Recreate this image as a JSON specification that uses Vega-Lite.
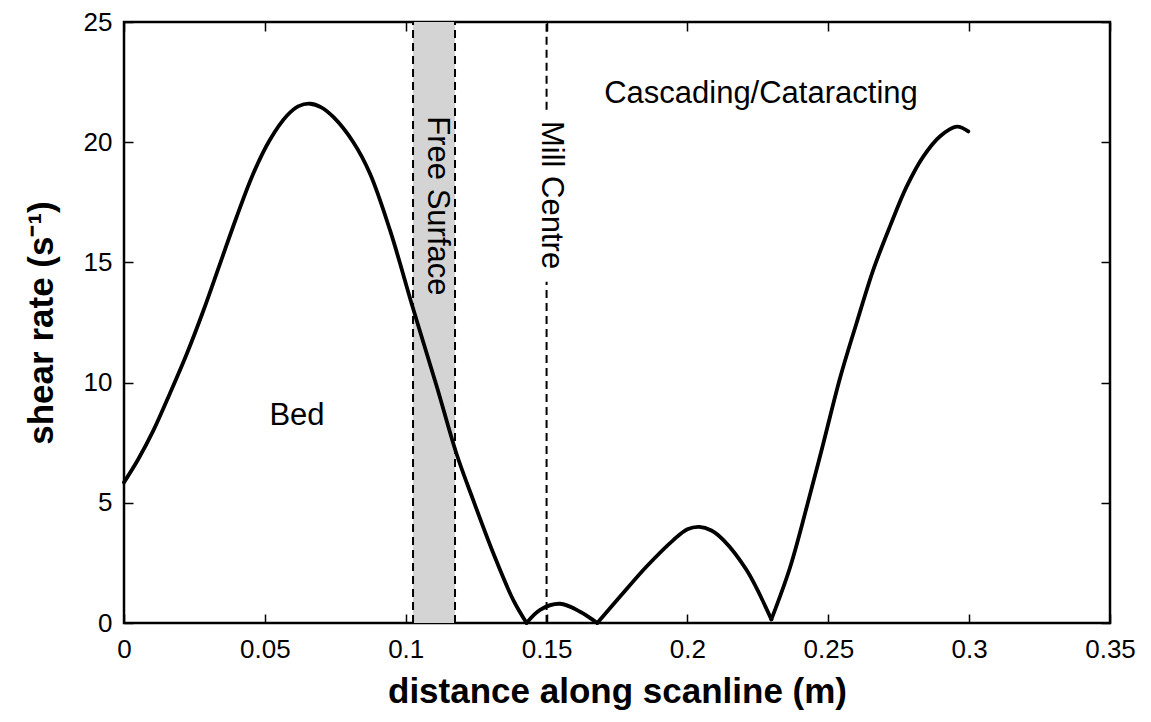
{
  "$schema": "https://vega.github.io/schema/vega-lite/v6.json",
  "autosize": "none",
  "width": 986,
  "height": 601,
  "padding": {"left": 124, "top": 22, "right": 41, "bottom": 99},
  "background": "white",
  "config": {
    "view": {"stroke": "black", "strokeWidth": 2.5},
    "font": "Liberation Sans",
    "axis": {
      "domain": false,
      "grid": false,
      "ticks": true,
      "tickColor": "black",
      "tickWidth": 1.5,
      "tickSize": -9,
      "labelColor": "black",
      "labelFont": "Liberation Sans",
      "labelFontSize": 26,
      "titleFont": "Liberation Sans",
      "titleFontSize": 35,
      "titleFontWeight": "bold",
      "titleColor": "black"
    }
  },
  "datasets": {
    "curve": [
      {"seg": 1, "x": 0.0, "y": 5.85},
      {"seg": 1, "x": 0.005, "y": 6.8},
      {"seg": 1, "x": 0.0104, "y": 8.0},
      {"seg": 1, "x": 0.0163, "y": 9.55},
      {"seg": 1, "x": 0.0223, "y": 11.2},
      {"seg": 1, "x": 0.0282, "y": 13.0},
      {"seg": 1, "x": 0.0341, "y": 14.95},
      {"seg": 1, "x": 0.040, "y": 16.9},
      {"seg": 1, "x": 0.0459, "y": 18.7},
      {"seg": 1, "x": 0.0518, "y": 20.1},
      {"seg": 1, "x": 0.0578, "y": 21.1},
      {"seg": 1, "x": 0.062, "y": 21.5},
      {"seg": 1, "x": 0.066, "y": 21.6},
      {"seg": 1, "x": 0.070, "y": 21.45},
      {"seg": 1, "x": 0.0743, "y": 21.05},
      {"seg": 1, "x": 0.0814, "y": 20.0},
      {"seg": 1, "x": 0.0873, "y": 18.7},
      {"seg": 1, "x": 0.0944, "y": 16.35},
      {"seg": 1, "x": 0.1027, "y": 13.05},
      {"seg": 1, "x": 0.111, "y": 9.85},
      {"seg": 1, "x": 0.118, "y": 7.05},
      {"seg": 1, "x": 0.124, "y": 5.1},
      {"seg": 1, "x": 0.1311, "y": 2.9},
      {"seg": 1, "x": 0.1382, "y": 0.95},
      {"seg": 1, "x": 0.1429, "y": 0.0},
      {"seg": 2, "x": 0.1429, "y": 0.0},
      {"seg": 2, "x": 0.1477, "y": 0.55},
      {"seg": 2, "x": 0.1548, "y": 0.8},
      {"seg": 2, "x": 0.1619, "y": 0.47},
      {"seg": 2, "x": 0.168, "y": 0.0},
      {"seg": 3, "x": 0.168, "y": 0.0},
      {"seg": 3, "x": 0.1761, "y": 1.1},
      {"seg": 3, "x": 0.1855, "y": 2.35},
      {"seg": 3, "x": 0.195, "y": 3.45},
      {"seg": 3, "x": 0.2, "y": 3.9},
      {"seg": 3, "x": 0.2042, "y": 4.0},
      {"seg": 3, "x": 0.2085, "y": 3.85},
      {"seg": 3, "x": 0.2128, "y": 3.45},
      {"seg": 3, "x": 0.221, "y": 2.2},
      {"seg": 3, "x": 0.2298, "y": 0.15},
      {"seg": 4, "x": 0.2298, "y": 0.15},
      {"seg": 4, "x": 0.2364, "y": 2.3},
      {"seg": 4, "x": 0.2423, "y": 4.8},
      {"seg": 4, "x": 0.2483, "y": 7.5},
      {"seg": 4, "x": 0.2542, "y": 10.2},
      {"seg": 4, "x": 0.2601, "y": 12.5},
      {"seg": 4, "x": 0.266, "y": 14.7},
      {"seg": 4, "x": 0.2719, "y": 16.5},
      {"seg": 4, "x": 0.2778, "y": 18.15},
      {"seg": 4, "x": 0.2837, "y": 19.4},
      {"seg": 4, "x": 0.2897, "y": 20.25},
      {"seg": 4, "x": 0.2956, "y": 20.65},
      {"seg": 4, "x": 0.2997, "y": 20.45}
    ],
    "lines": [
      {"x": 0.1026, "y1": 0, "y2": 25},
      {"x": 0.1175, "y1": 0, "y2": 25},
      {"x": 0.15, "y1": 0, "y2": 14.2},
      {"x": 0.15, "y1": 21.35, "y2": 25}
    ],
    "band": [{"x1": 0.1026, "x2": 0.1175, "y1": 0, "y2": 25}],
    "labels": [
      {"x": 0.0614, "y": 8.6, "text": "Bed", "angle": 0},
      {"x": 0.2261, "y": 22.0, "text": "Cascading/Cataracting", "angle": 0},
      {"x": 0.1112, "y": 17.35, "text": "Free Surface", "angle": 90},
      {"x": 0.1514, "y": 17.8, "text": "Mill Centre", "angle": 90}
    ]
  },
  "layer": [
    {
      "data": {"name": "band"},
      "mark": {"type": "rect", "fill": "#d4d4d4", "stroke": null},
      "encoding": {
        "x": {"field": "x1", "type": "quantitative", "scale": {"domain": [0, 0.35], "nice": false, "zero": false},
          "axis": {"title": "distance along scanline (m)", "values": [0, 0.05, 0.1, 0.15, 0.2, 0.25, 0.3, 0.35], "labelExpr": "datum.value == 0 ? '0' : format(datum.value, '.2~f')", "labelPadding": 22, "titlePadding": 12, "labelFlush": false}},
        "x2": {"field": "x2"},
        "y": {"field": "y1", "type": "quantitative", "scale": {"domain": [0, 25], "nice": false},
          "axis": {"title": "shear rate (s⁻¹)", "values": [0, 5, 10, 15, 20, 25], "labelPadding": 21, "titlePadding": 24, "labelFlush": false}},
        "y2": {"field": "y2"}
      }
    },
    {
      "data": {"name": "lines"},
      "mark": {"type": "rule", "color": "black", "strokeWidth": 2, "strokeDash": [8, 5]},
      "encoding": {
        "x": {"field": "x", "type": "quantitative", "axis": null},
        "y": {"field": "y1", "type": "quantitative", "axis": null},
        "y2": {"field": "y2"}
      }
    },
    {
      "data": {"name": "curve"},
      "mark": {"type": "line", "color": "black", "strokeWidth": 3.8, "interpolate": "catmull-rom", "strokeCap": "round", "strokeJoin": "round"},
      "encoding": {
        "x": {"field": "x", "type": "quantitative", "axis": null},
        "y": {"field": "y", "type": "quantitative", "axis": null},
        "detail": {"field": "seg", "type": "nominal"}
      }
    },
    {
      "data": {"name": "labels"},
      "mark": {"type": "text", "font": "Liberation Sans", "fontSize": 31, "color": "black", "baseline": "middle", "align": "center"},
      "encoding": {
        "x": {"field": "x", "type": "quantitative", "axis": null},
        "y": {"field": "y", "type": "quantitative", "axis": null},
        "text": {"field": "text"},
        "angle": {"field": "angle", "type": "quantitative", "scale": null}
      }
    },
    {
      "data": {"name": "band"},
      "mark": {"type": "rect", "opacity": 0},
      "encoding": {
        "x": {"field": "x1", "type": "quantitative", "axis": {"orient": "top", "title": null, "labels": false, "values": [0, 0.05, 0.1, 0.15, 0.2, 0.25, 0.3, 0.35]}},
        "x2": {"field": "x2"},
        "y": {"field": "y1", "type": "quantitative", "axis": {"orient": "right", "title": null, "labels": false, "values": [0, 5, 10, 15, 20, 25]}},
        "y2": {"field": "y2"}
      }
    }
  ],
  "resolve": {"axis": {"x": "independent", "y": "independent"}}
}
